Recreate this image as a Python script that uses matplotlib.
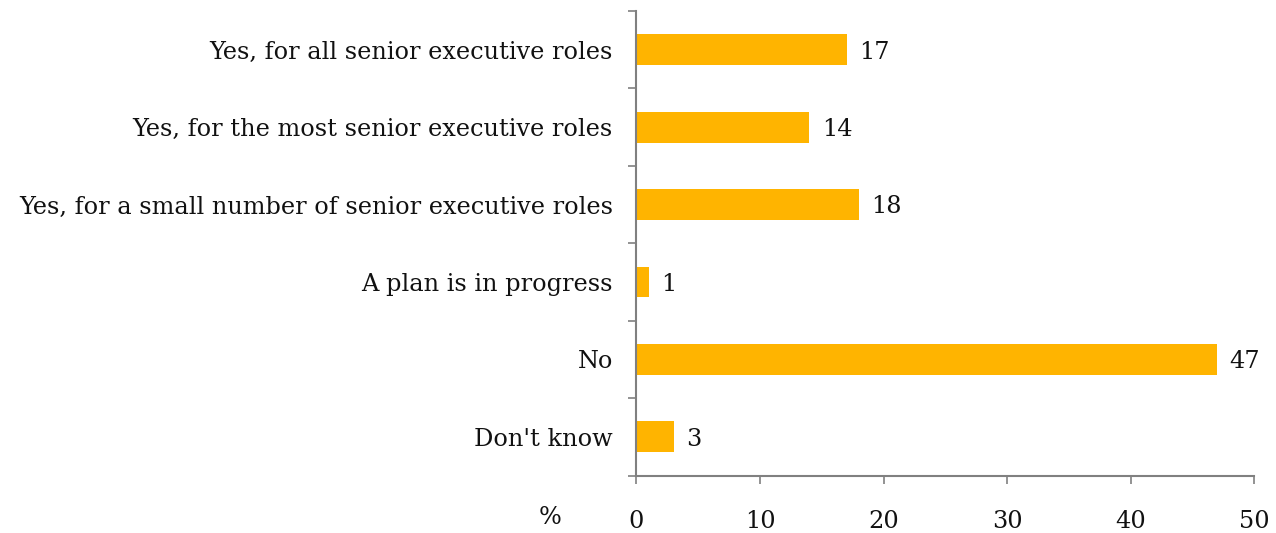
import matplotlib.pyplot as plt
import numpy as np

categories = [
    "Yes, for all senior executive roles",
    "Yes, for the most senior executive roles",
    "Yes, for a small number of senior executive roles",
    "A plan is in progress",
    "No",
    "Don't know",
]
values = [17, 14, 18, 1, 47, 3]
xticks = [0, 10, 20, 30, 40, 50]

FS = 17.3
plt.rcParams['font.family'] = ['DejaVu Serif']
fig = plt.figure(figsize=(12.76, 5.33), dpi=100)
ax = fig.add_axes([0.4988, 0.1078, 0.4843, 0.8715])

y = np.arange(len(categories))
ax.barh(y, values, height=0.4, color='#FFB400', edgecolor='none')
ax.set_ylim(len(categories) - 0.5, -0.5)
ax.set_xlim(0, 50)

for yi, v in zip(y, values):
    ax.text(v + 1.0, yi + 0.03, str(v), va='center', ha='left', fontsize=FS, color='#111111')

# category names as plain text, tick marks sit between rows
ax.set_yticks(y)
ax.set_yticklabels(categories, fontsize=FS, color='#111111')
ax.tick_params(axis='y', which='major', length=0, pad=17)
ax.set_yticks(np.arange(-0.5, len(categories)), minor=True)
ax.tick_params(axis='y', which='minor', length=6, color='#808080', width=1.2)

ax.set_xticks(xticks)
ax.set_xticklabels([str(t) for t in xticks], fontsize=FS, color='#111111')
ax.tick_params(axis='x', length=6, color='#808080', width=1.2, pad=19)

for side in ['top', 'right']:
    ax.spines[side].set_visible(False)
for side in ['left', 'bottom']:
    ax.spines[side].set_color('#808080')
    ax.spines[side].set_linewidth(1.5)

fig.text(550 / 1276, 1 - 517 / 533, '%', fontsize=FS, ha='center', va='center', color='#111111')

fig.savefig('out.png', dpi=100)
